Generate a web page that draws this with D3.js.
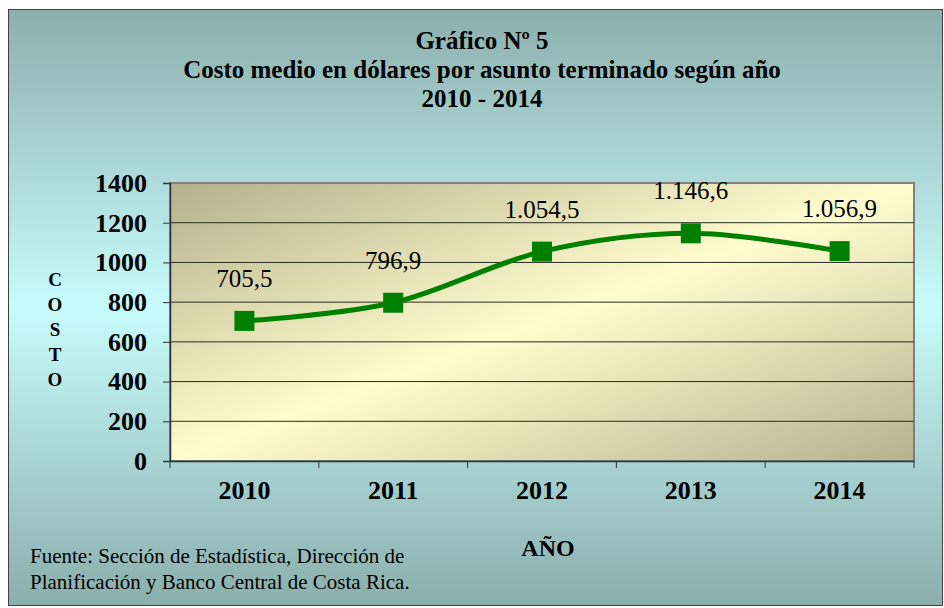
<!DOCTYPE html>
<html>
<head>
<meta charset="utf-8">
<script src="https://cdn.jsdelivr.net/npm/d3@7"></script>
<style>
  body { margin: 0; background: #fff; }
</style>
</head>
<body>
<div id="chart"></div>
<script>
var years = ["2010", "2011", "2012", "2013", "2014"];
var costs = [705.5, 796.9, 1054.5, 1146.6, 1056.9];
var costLabels = ["705,5", "796,9", "1.054,5", "1.146,6", "1.056,9"];
var yTicks = [0, 200, 400, 600, 800, 1000, 1200, 1400];
var titleLines = ["Gráfico Nº 5", "Costo medio en dólares por asunto terminado según año", "2010 - 2014"];
var sourceLines = ["Fuente: Sección de Estadística, Dirección de", "Planificación y Banco Central de Costa Rica."];

var FONT = "Liberation Serif";
var W = 944, H = 608;
var margin = {top: 183, right: 30, bottom: 147, left: 170};

var svg = d3.select("#chart").append("svg")
  .attr("width", W).attr("height", H)
  .attr("font-family", FONT);

var defs = svg.append("defs");

// outer background
var bgGrad = defs.append("linearGradient").attr("id", "bgGrad")
  .attr("x1", 0).attr("y1", 0).attr("x2", 0).attr("y2", 1);
bgGrad.append("stop").attr("offset", "0%").attr("stop-color", "#8cafad");
bgGrad.append("stop").attr("offset", "50%").attr("stop-color", "#c8fcfc");
bgGrad.append("stop").attr("offset", "100%").attr("stop-color", "#8aaeac");

// plot area
var plotGrad = defs.append("linearGradient").attr("id", "plotGrad")
  .attr("x1", 0).attr("y1", 0).attr("x2", 1).attr("y2", 1);
plotGrad.append("stop").attr("offset", "0%").attr("stop-color", "#b4b08b");
plotGrad.append("stop").attr("offset", "50%").attr("stop-color", "#fffdcf");
plotGrad.append("stop").attr("offset", "100%").attr("stop-color", "#b5b28e");

svg.append("rect")
  .attr("x", 8.5).attr("y", 9.5).attr("width", W - 10).attr("height", H - 12)
  .attr("fill", "url(#bgGrad)")
  .attr("stroke", "#404040").attr("stroke-width", 1);

var width = W - margin.left - margin.right,
    height = H - margin.top - margin.bottom;

var x = d3.scaleBand().domain(years).range([margin.left, margin.left + width]);
var y = d3.scaleLinear().domain([0, 1400]).range([margin.top + height, margin.top]);

svg.append("rect")
  .attr("x", margin.left).attr("y", margin.top)
  .attr("width", width).attr("height", height)
  .attr("fill", "url(#plotGrad)")
  .attr("stroke", "#808080").attr("stroke-width", 2);

// gridlines
svg.append("g")
  .selectAll("line")
  .data(yTicks.filter(function(d){ return d > 0 && d < 1400 }))
  .enter().append("line")
    .attr("x1", margin.left).attr("x2", margin.left + width)
    .attr("y1", function(d){ return y(d) }).attr("y2", function(d){ return y(d) })
    .attr("stroke", "#2a2a20").attr("stroke-width", 1);

// y axis
var yAxis = svg.append("g")
  .attr("transform", "translate(" + margin.left + ",0)")
  .call(d3.axisLeft(y).tickValues(yTicks).tickSize(7).tickPadding(16).tickFormat(d3.format("d")))
  .attr("font-family", FONT).attr("font-size", 26).attr("font-weight", "bold");
yAxis.select(".domain").attr("stroke", "#333").attr("stroke-width", 1.5);
yAxis.selectAll(".tick line").attr("stroke", "#333");
yAxis.selectAll("text").attr("fill", "#000");

// x axis
var xAxis = svg.append("g")
  .attr("transform", "translate(0," + (margin.top + height) + ")")
  .call(d3.axisBottom(x).tickSize(0).tickPadding(20))
  .attr("font-family", FONT).attr("font-size", 26).attr("font-weight", "bold");
xAxis.select(".domain").attr("stroke", "#333").attr("stroke-width", 1.5);
xAxis.selectAll("text").attr("fill", "#000");

// category boundary ticks
svg.append("g")
  .selectAll("line")
  .data(years.concat(["end"]))
  .enter().append("line")
    .attr("x1", function(d, i){ return margin.left + i * x.step() })
    .attr("x2", function(d, i){ return margin.left + i * x.step() })
    .attr("y1", margin.top + height)
    .attr("y2", margin.top + height + 7)
    .attr("stroke", "#333").attr("stroke-width", 1);

// line
var cx = function(d, i){ return x(years[i]) + x.bandwidth() / 2 };
var line = d3.line()
  .x(cx)
  .y(function(d){ return y(d) })
  .curve(d3.curveCatmullRom.alpha(0));

svg.append("path")
  .datum(costs)
  .attr("d", line)
  .attr("fill", "none")
  .attr("stroke", "#008000")
  .attr("stroke-width", 5);

svg.append("g")
  .selectAll("rect")
  .data(costs)
  .enter().append("rect")
    .attr("x", function(d, i){ return cx(d, i) - 10 })
    .attr("y", function(d){ return y(d) - 10 })
    .attr("width", 20).attr("height", 20)
    .attr("fill", "#008000");

svg.append("g")
  .selectAll("text")
  .data(costs)
  .enter().append("text")
    .attr("x", function(d, i){ return cx(d, i) })
    .attr("y", function(d){ return y(d) - 34 })
    .attr("text-anchor", "middle")
    .attr("font-size", 25)
    .text(function(d, i){ return costLabels[i] });

// titles
svg.append("g")
  .selectAll("text")
  .data(titleLines)
  .enter().append("text")
    .attr("x", 482)
    .attr("y", function(d, i){ return 49 + i * 29 })
    .attr("text-anchor", "middle")
    .attr("font-size", 25).attr("font-weight", "bold")
    .text(function(d){ return d });

// y title stacked letters
svg.append("g")
  .selectAll("text")
  .data("COSTO".split(""))
  .enter().append("text")
    .attr("x", 55)
    .attr("y", function(d, i){ return 286 + i * 25 })
    .attr("text-anchor", "middle")
    .attr("font-size", 19).attr("font-weight", "bold")
    .text(function(d){ return d });

svg.append("text")
  .attr("x", 548).attr("y", 556)
  .attr("text-anchor", "middle")
  .attr("font-size", 24).attr("font-weight", "bold")
  .text("AÑO");

svg.append("g")
  .selectAll("text")
  .data(sourceLines)
  .enter().append("text")
    .attr("x", 30)
    .attr("y", function(d, i){ return 563 + i * 26 })
    .attr("font-size", 21)
    .text(function(d){ return d });
</script>
</body>
</html>
